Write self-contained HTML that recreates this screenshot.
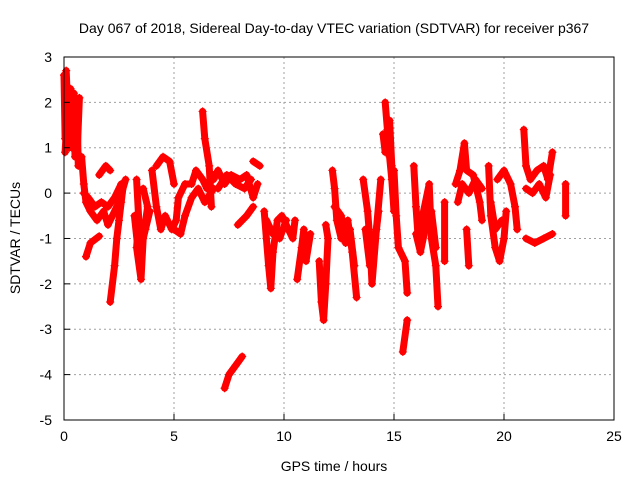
<!DOCTYPE html>
<html><head><meta charset="utf-8"><style>
body{margin:0;background:#fff}
svg text{font-family:"Liberation Sans",sans-serif;font-size:14px;fill:#000}
</style></head><body>
<svg id="chart" width="640" height="480" xmlns="http://www.w3.org/2000/svg">
<rect width="640" height="480" fill="#fff"/>
<text x="334" y="33" text-anchor="middle" font-size="14">Day 067 of 2018, Sidereal Day-to-day VTEC variation (SDTVAR) for receiver p367</text>
<g id="grid"></g>
<g id="marks"></g>
<rect x="64" y="57" width="550" height="363" fill="none" stroke="#000" stroke-width="1"/>
<g id="axes"></g>
<text x="334" y="471" text-anchor="middle">GPS time / hours</text>
<text x="20" y="238" text-anchor="middle" transform="rotate(-90 20 238)">SDTVAR / TECUs</text>
</svg>
<script>
const xTicks=[0,5,10,15,20,25];
const yTicks=[-5,-4,-3,-2,-1,0,1,2,3];
const tracks=[
[[0,2.6],[0.05,1.2],[0.1,2.7],[0.2,1.5],[0.3,2.3],[0.35,1.0],[0.45,2.2],[0.5,0.8],[0.6,1.6],[0.65,0.6]],
[[0.05,0.9],[0.15,1.8],[0.25,1.0],[0.4,1.7],[0.55,1.2],[0.7,2.1],[0.6,0.9]],
[[0.8,0.8],[0.9,0.2],[1.0,-0.2],[1.2,-0.4],[1.5,-0.6],[1.8,-0.4],[2.0,-0.7],[2.2,-0.5],[2.5,-0.2],[2.8,0.3]],
[[0.9,0.0],[1.1,-0.1],[1.4,-0.3],[1.7,-0.2],[2.0,-0.3],[2.3,-0.1],[2.6,0.2]],
[[1.0,-1.4],[1.2,-1.1],[1.6,-0.95]],
[[1.6,0.4],[1.9,0.6],[2.1,0.5]],
[[2.1,-2.4],[2.3,-1.6],[2.4,-1.0],[2.5,-0.6],[2.6,-0.2],[2.7,0.2]],
[[3.3,0.3],[3.4,-0.6],[3.3,-1.2],[3.5,-1.9],[3.6,-1.0],[3.8,-0.3],[3.6,0.1]],
[[3.2,-0.5],[3.4,-1.4],[3.7,-0.8],[3.9,-0.4]],
[[4.0,0.5],[4.2,-0.3],[4.4,-0.8],[4.6,-0.5],[4.9,-0.8],[5.1,-0.6],[5.2,-0.1],[5.5,0.2],[5.8,0.2],[6.0,0.5],[6.3,0.3],[6.5,0.1],[6.8,0.4]],
[[4.2,0.6],[4.5,0.8],[4.8,0.7],[5.0,0.2]],
[[5.0,-0.8],[5.3,-0.9],[5.5,-0.5],[5.8,-0.1],[6.1,0.1],[6.4,-0.2],[6.8,0.1]],
[[6.3,1.8],[6.4,1.2],[6.6,0.6],[6.7,-0.3]],
[[6.8,0.3],[7.0,0.5],[7.3,0.2],[7.6,0.4],[8.0,0.3],[8.3,0.4],[8.6,-0.1],[8.8,0.2]],
[[7.0,0.1],[7.4,0.4],[7.8,0.2],[8.2,0.1],[8.5,0.3]],
[[8.6,0.7],[8.9,0.6]],
[[7.9,-0.7],[8.3,-0.5],[8.6,-0.3]],
[[7.3,-4.3],[7.5,-4.0],[7.8,-3.8],[8.1,-3.6]],
[[9.1,-0.4],[9.2,-1.0],[9.3,-1.6],[9.4,-2.1],[9.5,-1.3],[9.7,-0.6],[9.9,-0.5],[10.2,-0.8],[10.4,-1.0],[10.5,-0.6]],
[[9.2,-0.6],[9.5,-0.9],[9.8,-1.0],[10.1,-0.6]],
[[10.6,-1.9],[10.8,-1.2],[10.9,-0.8],[11.0,-1.5],[11.2,-0.9]],
[[11.6,-1.5],[11.7,-2.4],[11.8,-2.8],[11.9,-2.0],[12.0,-1.0],[11.9,-0.7]],
[[12.2,0.5],[12.3,0.1],[12.4,-0.6],[12.6,-1.0],[12.9,-0.6],[13.1,-1.3],[13.3,-2.3]],
[[12.3,-0.3],[12.6,-0.5],[12.8,-1.1],[13.0,-0.8],[13.2,-1.6]],
[[13.6,0.3],[13.8,-0.4],[13.9,-1.0],[14.0,-2.0],[14.2,-0.8],[14.4,0.3]],
[[13.7,-0.8],[13.9,-1.6],[14.1,-1.2],[14.3,-0.4]],
[[14.6,2.0],[14.7,1.4],[14.8,0.8],[14.9,0.3],[15.0,-0.4]],
[[14.5,1.3],[14.6,0.9],[14.8,1.6],[14.9,0.6]],
[[15.0,0.5],[15.1,-0.5],[15.2,-1.2],[15.5,-1.5],[15.6,-2.2]],
[[15.4,-3.5],[15.6,-2.8]],
[[15.9,0.6],[16.0,-0.3],[16.1,-1.0],[16.3,-0.5],[16.6,0.2],[16.7,-1.0],[16.9,-1.6],[17.0,-2.5]],
[[16.0,-0.9],[16.2,-1.3],[16.5,-0.6],[16.7,-0.4],[16.9,-1.2]],
[[17.3,-0.2],[17.3,-1.5]],
[[17.8,0.2],[18.0,0.5],[18.2,1.1],[18.3,0.5],[18.6,0.4],[18.9,-0.2],[19.0,-0.6]],
[[17.9,-0.2],[18.1,0.2],[18.4,0.0],[18.7,0.3],[19.0,0.1]],
[[18.3,-0.8],[18.4,-1.6]],
[[19.3,0.6],[19.4,-0.5],[19.6,-1.2],[19.8,-1.5],[20.0,-1.0],[20.1,-0.4]],
[[19.4,-0.2],[19.6,-0.8],[19.9,-0.6]],
[[19.7,0.3],[20.0,0.5],[20.3,0.2],[20.5,-0.3],[20.6,-0.8]],
[[20.9,1.4],[21.0,0.6],[21.2,0.3],[21.5,0.5],[21.8,0.6],[22.0,0.3],[22.2,0.9]],
[[21.0,0.1],[21.3,0.0],[21.6,0.2],[21.9,-0.1],[22.1,0.4]],
[[21.0,-1.0],[21.4,-1.1],[21.8,-1.0],[22.2,-0.9]],
[[22.8,0.2],[22.8,-0.5]]
];
const NS="http://www.w3.org/2000/svg";
const X=t=>64+t*22, Y=v=>193.1-v*45.375;
const grid=document.getElementById('grid'),axes=document.getElementById('axes'),marks=document.getElementById('marks');
function mk(tag,attrs,parent){const e=document.createElementNS(NS,tag);for(const k in attrs)e.setAttribute(k,attrs[k]);parent.appendChild(e);return e;}
xTicks.forEach(t=>{
 if(t>0&&t<25){const g=mk('line',{x1:X(t),x2:X(t),y1:57,y2:420,stroke:'#a0a0a0','stroke-dasharray':'2,3'},grid);
 
 }
 const tk=mk('line',{x1:X(t),x2:X(t),y1:420,y2:414,stroke:'#000'},axes);
 
 
 const l=mk('text',{x:X(t),y:441,'text-anchor':'middle'},axes);l.textContent=t;
 
 
});
yTicks.forEach(v=>{
 if(v>-5&&v<3){const g=mk('line',{x1:64,x2:614,y1:Y(v),y2:Y(v),stroke:'#a0a0a0','stroke-dasharray':'2,3'},grid);
 
 }
 const tk=mk('line',{x1:64,x2:70,y1:Y(v),y2:Y(v),stroke:'#000'},axes);
 
 
 const l=mk('text',{x:52,y:Y(v)+5,'text-anchor':'end'},axes);l.textContent=v;
 
 
});
tracks.forEach(tr=>{
 const p=mk('polyline',{points:tr.map(d=>X(d[0])+','+Y(d[1])).join(' '),fill:'none',stroke:'#f00','stroke-width':7,'stroke-linejoin':'round','stroke-linecap':'round'},marks);
 
 
 tr.forEach(d=>{
  const x=X(d[0]),y=Y(d[1]);
  const c=mk('path',{d:`M${x-4},${y}H${x+4}M${x},${y-4}V${y+4}`,stroke:'#f00','stroke-width':1.2},marks);
  
  
 });
});
</script>
</body></html>
